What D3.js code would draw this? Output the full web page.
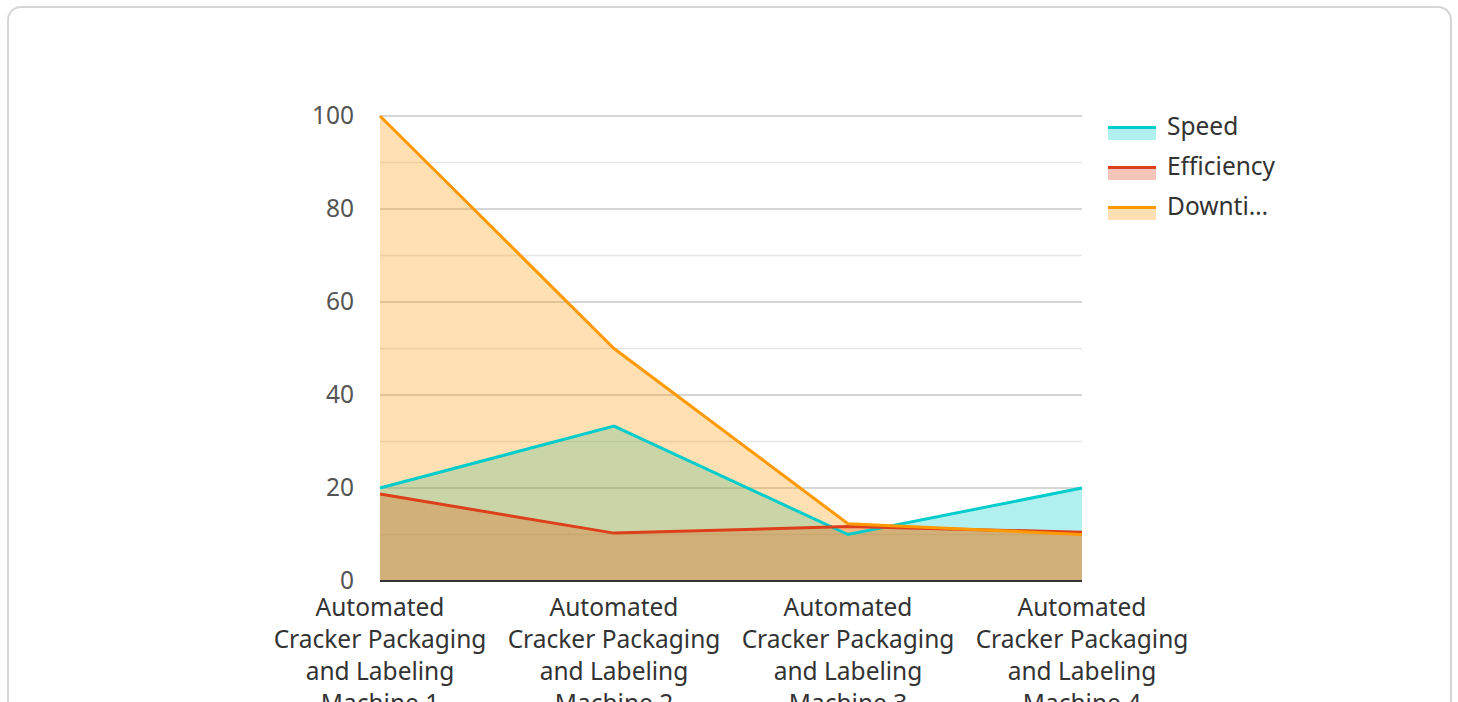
<!DOCTYPE html>
<html>
<head>
<meta charset="utf-8">
<script src="https://cdn.jsdelivr.net/npm/d3@7"></script>
<style>
  body { margin: 0; background: #fff; font-family: "Noto Sans", sans-serif; }
  .card {
    position: absolute; left: 7px; top: 6px; width: 1445px; height: 720px;
    border: 2px solid #d6d6d6; border-radius: 14px; box-sizing: border-box;
  }
</style>
</head>
<body>
<div class="card"></div>
<svg id="chart" width="1458" height="702" style="position:absolute;left:0;top:0"></svg>
<script>
// data
var machines = [
  "Automated Cracker Packaging and Labeling Machine 1",
  "Automated Cracker Packaging and Labeling Machine 2",
  "Automated Cracker Packaging and Labeling Machine 3",
  "Automated Cracker Packaging and Labeling Machine 4"
];
var speed = [20, 33.3, 10, 20];
var efficiency = [18.7, 10.3, 11.7, 10.5];
var downtime = [100, 50, 12.3, 10];
var seriesNames = ["Speed", "Efficiency", "Downtime"];
var legendLabels = ["Speed", "Efficiency", "Downti…"]; // legend cuts the last one short
var seriesColors = ["#00cccc", "#dd3f1a", "#ff9900"];
var yTicks = [0, 20, 40, 60, 80, 100];

var series = [speed, efficiency, downtime].map(function (vals, i) {
  return { name: seriesNames[i], label: legendLabels[i], color: seriesColors[i], values: vals };
});

var svg = d3.select("#chart");
var plotLeft = 380, plotRight = 1082, plotTop = 116, plotBottom = 581;
var fontSize = "24.5px";

var x = d3.scalePoint().domain(machines).range([plotLeft, plotRight]);
var y = d3.scaleLinear().domain([0, 100]).range([plotBottom, plotTop]);

// grid lines: minor every 10, major every 20
svg.append("g").selectAll("line")
  .data(d3.range(10, 100, 20))
  .enter().append("line")
  .attr("x1", plotLeft).attr("x2", plotRight)
  .attr("y1", function (d) { return y(d); }).attr("y2", function (d) { return y(d); })
  .attr("stroke", "#e6e6e6").attr("stroke-width", 1.5);

svg.append("g").selectAll("line")
  .data(yTicks.slice(1))
  .enter().append("line")
  .attr("x1", plotLeft).attr("x2", plotRight)
  .attr("y1", function (d) { return y(d); }).attr("y2", function (d) { return y(d); })
  .attr("stroke", "#c8c8c8").attr("stroke-width", 1.5);

// y axis labels
var yAxis = svg.append("g")
  .attr("transform", "translate(" + plotLeft + ",0)")
  .call(d3.axisLeft(y).tickValues(yTicks).tickSize(0).tickPadding(26));
yAxis.select(".domain").remove();
yAxis.selectAll("text")
  .style("font-family", "Noto Sans").style("font-size", fontSize).attr("fill", "#555")
  .attr("dy", "0.3em");

var area = d3.area()
  .x(function (d, i) { return x(machines[i]); })
  .y0(plotBottom)
  .y1(function (d) { return y(d); });

var line = d3.line()
  .x(function (d, i) { return x(machines[i]); })
  .y(function (d) { return y(d); });

svg.append("g").selectAll("path")
  .data(series)
  .enter().append("path")
  .attr("d", function (s) { return area(s.values); })
  .attr("fill", function (s) { return s.color; })
  .attr("fill-opacity", 0.3);

svg.append("g").selectAll("path")
  .data(series)
  .enter().append("path")
  .attr("d", function (s) { return line(s.values); })
  .attr("fill", "none")
  .attr("stroke", function (s) { return s.color; })
  .attr("stroke-width", 3);

// x axis
svg.append("line")
  .attr("x1", plotLeft).attr("x2", plotRight)
  .attr("y1", plotBottom).attr("y2", plotBottom)
  .attr("stroke", "#333").attr("stroke-width", 2);

var xLabelLines = ["Automated", "Cracker Packaging", "and Labeling"];
var xl = svg.append("g").selectAll("text")
  .data(machines)
  .enter().append("text")
  .attr("text-anchor", "middle")
  .style("font-family", "Noto Sans").style("font-size", fontSize)
  .attr("fill", "#333")
  .attr("transform", function (d) { return "translate(" + x(d) + "," + 616 + ")"; });

xl.each(function (d) {
  var t = d3.select(this);
  var lines = xLabelLines.concat([d.replace(/.*Labeling /, "")]);
  lines.forEach(function (l, j) {
    t.append("tspan").attr("x", 0).attr("y", j * 32).text(l);
  });
});

// legend
var legend = svg.append("g").attr("transform", "translate(1108,127)");
var rows = legend.selectAll("g")
  .data(series)
  .enter().append("g")
  .attr("transform", function (d, i) { return "translate(0," + i * 40 + ")"; });

rows.append("rect")
  .attr("x", 0).attr("y", 0).attr("width", 48).attr("height", 13)
  .attr("fill", function (s) { return s.color; }).attr("fill-opacity", 0.3);
rows.append("rect")
  .attr("x", 0).attr("y", -1).attr("width", 48).attr("height", 3)
  .attr("fill", function (s) { return s.color; });
rows.append("text")
  .attr("x", 59).attr("y", 8)
  .style("font-family", "Noto Sans").style("font-size", fontSize)
  .attr("fill", "#333")
  .text(function (s) { return s.label; });
</script>
</body>
</html>
